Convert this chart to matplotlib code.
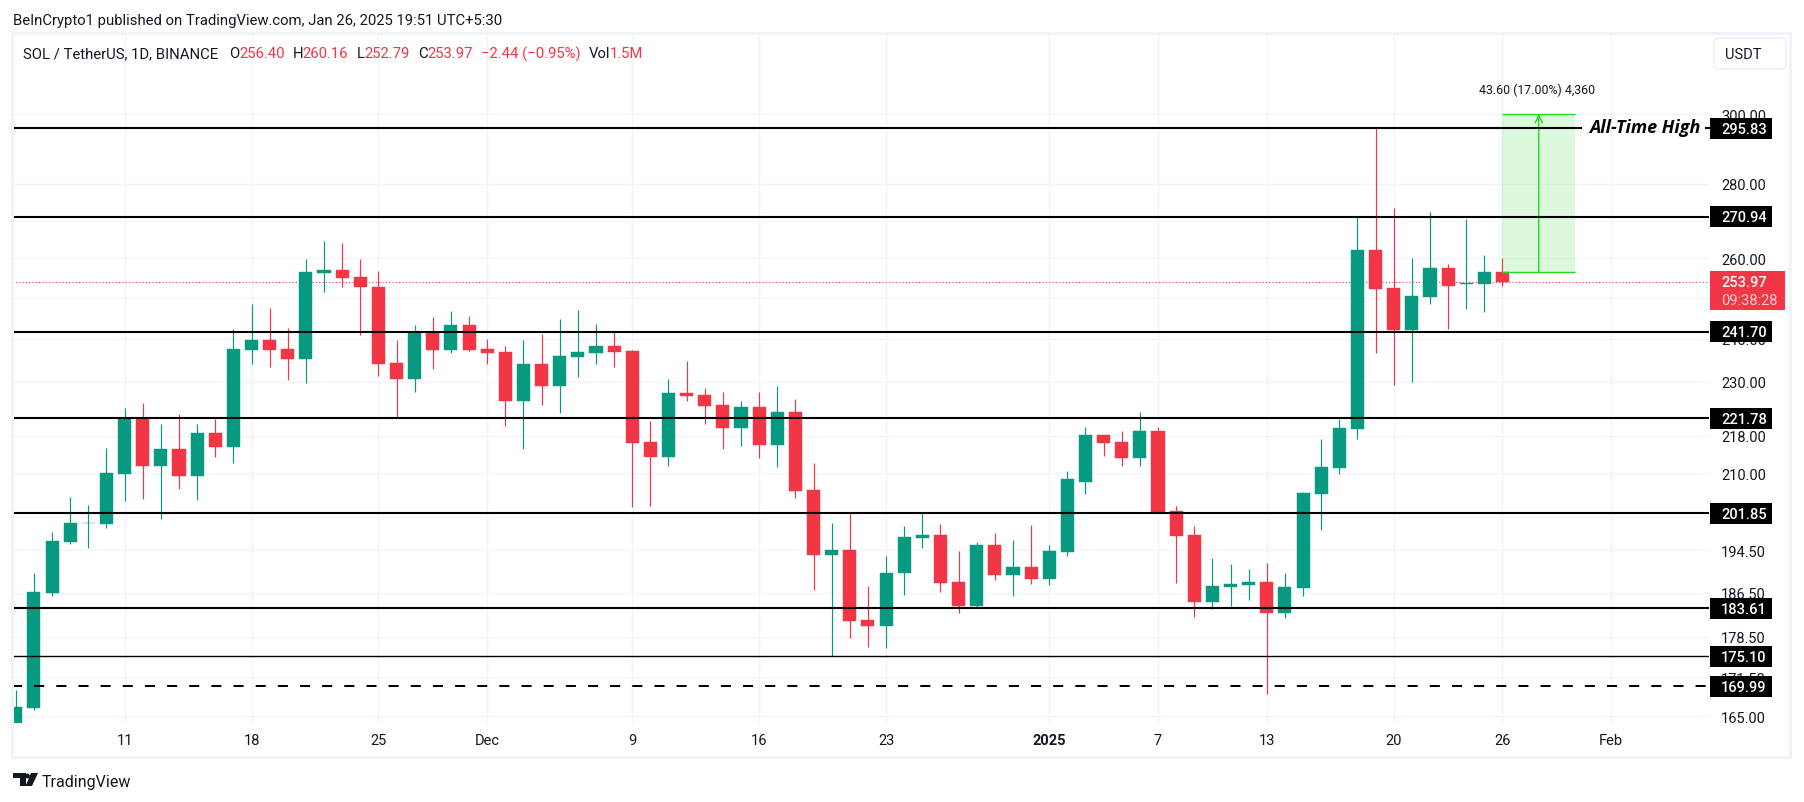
import numpy as np
import pandas as pd
import matplotlib
matplotlib.use("Agg")
import matplotlib.pyplot as plt
import matplotlib.dates as mdates
from matplotlib.patches import Rectangle, FancyBboxPatch, Circle, Polygon
from matplotlib.ticker import NullLocator

plt.rcParams['font.family'] = ['Roboto', 'DejaVu Sans']

W, H = 1804, 803
GREEN = "#089981"
RED = "#f23645"
INK = "#131722"
GRID = "#f0f3fa"
TOOL = "#1fdc1f"

# daily candles, 5 Nov 2024 to 26 Jan 2025
dates = pd.date_range("2024-11-05", "2025-01-26")
opens = [163.0, 166.4, 186.4, 196.1, 199.8, 199.7, 209.9, 221.8, 211.6, 215.1, 209.5, 218.6, 215.5,
         237.3, 239.7, 237.5, 235.2, 256.3, 257.0, 255.2, 252.7, 234.3, 230.6, 241.7, 237.3, 243.4,
         237.5, 236.8, 225.6, 234.1, 229.0, 235.7, 236.6, 238.3, 237.1, 216.6, 213.4, 227.4, 226.9,
         224.7, 219.7, 224.3, 216.0, 223.2, 206.5, 193.7, 194.6, 181.5, 180.4, 190.1, 197.0, 197.6,
         188.5, 184.0, 195.5, 189.9, 191.4, 189.1, 194.2, 208.2, 218.2, 216.6, 213.2, 218.9, 202.3,
         197.6, 184.7, 187.6, 188.0, 188.5, 182.8, 187.4, 205.7, 211.0, 219.5, 262.1, 252.4, 242.1,
         250.2, 257.5, 253.3, 253.3, 256.40]
highs = [169.3, 190.1, 198.0, 205.1, 203.5, 215.3, 224.1, 225.1, 220.6, 222.7, 220.6, 221.7, 242.4,
         248.4, 247.5, 242.6, 259.8, 264.5, 264.0, 259.8, 256.8, 239.7, 243.4, 245.3, 246.7, 245.5,
         239.9, 238.3, 239.7, 241.2, 244.8, 247.0, 243.6, 241.7, 237.3, 221.2, 230.6, 234.8, 228.6,
         227.6, 225.6, 227.6, 229.0, 226.0, 212.2, 199.9, 202.1, 187.8, 193.5, 199.2, 201.9, 199.7,
         194.4, 196.1, 197.8, 196.5, 199.4, 195.5, 210.5, 219.9, 218.2, 219.0, 223.2, 219.8, 203.3,
         199.2, 193.1, 191.9, 191.0, 192.1, 190.2, 206.1, 217.3, 221.7, 270.9, 295.83, 273.3, 260.1,
         272.2, 258.5, 270.4, 260.8, 260.16]
lows = [161.0, 166.0, 185.9, 195.7, 195.0, 198.8, 204.3, 204.7, 200.7, 206.8, 204.5, 213.4, 212.2,
        234.1, 233.4, 230.4, 229.7, 251.4, 252.7, 241.0, 231.3, 222.1, 227.6, 232.9, 236.6, 237.1,
        234.1, 220.1, 215.1, 224.7, 223.0, 231.1, 234.1, 233.4, 203.1, 203.3, 211.6, 225.6, 220.6,
        215.1, 215.8, 213.2, 211.4, 204.9, 187.0, 175.2, 178.3, 176.8, 176.5, 186.1, 195.0, 186.6,
        182.8, 183.7, 188.8, 185.9, 188.2, 188.0, 193.5, 205.8, 213.7, 211.6, 211.6, 201.9, 188.3,
        182.0, 183.5, 184.0, 185.1, 168.7, 181.9, 185.9, 198.5, 209.9, 217.3, 236.6, 229.3, 230.0,
        248.4, 242.4, 247.2, 246.5, 252.79]
closes = [166.5, 186.6, 196.4, 199.9, 199.9, 210.1, 221.8, 211.6, 215.1, 209.5, 218.6, 215.5, 237.5,
          239.7, 237.3, 235.2, 256.5, 257.0, 254.9, 252.6, 234.1, 230.6, 241.7, 237.3, 243.4, 237.3,
          236.6, 225.6, 234.1, 229.0, 235.9, 236.8, 238.3, 236.8, 216.4, 213.4, 227.4, 226.7, 224.5,
          219.7, 224.3, 216.0, 223.2, 206.4, 193.7, 194.6, 181.3, 180.4, 190.2, 197.2, 197.6, 188.3,
          184.0, 195.5, 189.9, 191.4, 189.1, 194.4, 208.8, 218.2, 216.4, 213.2, 218.9, 202.1, 197.4,
          184.7, 187.8, 188.2, 188.5, 182.8, 187.6, 205.9, 211.2, 219.7, 262.1, 252.1, 242.1, 250.4,
          257.5, 253.0, 253.6, 256.40, 253.97]

level_solid = [295.83, 270.94, 241.70, 221.78, 201.85, 183.61]
level_thin = 175.10
level_dash = 169.99
last_price = 253.97
countdown = "09:38:28"

price_ticks = [300, 280, 260, 250, 240, 230, 218, 210, 194.5, 186.5, 178.5, 171.5, 165]
date_ticks = ["2024-11-11", "2024-11-18", "2024-11-25", "2024-12-01", "2024-12-09", "2024-12-16",
              "2024-12-23", "2025-01-01", "2025-01-07", "2025-01-13", "2025-01-20", "2025-01-26",
              "2025-02-01"]
date_labels = ["11", "18", "25", "Dec", "9", "16", "23", "2025", "7", "13", "20", "26", "Feb"]

# long position tool
tool_start, tool_end = "2025-01-26", "2025-01-30"
tool_mid = "2025-01-28"
tool_entry, tool_target = 256.40, 300.00
tool_label = "43.60 (17.00%) 4,360"

fig = plt.figure(figsize=(W / 100, H / 100), dpi=100, facecolor="white")
ax = fig.add_axes([12 / W, 1 - 723.8 / H, (1709 - 12) / W, (723 - 34) / H])
for s in ax.spines.values():
    s.set_visible(False)

x = mdates.date2num(dates)
ref = mdates.date2num(pd.Timestamp("2024-11-11"))
ax.set_yscale("log")
ax.set_xlim(ref - 6.21, ref + 87.39)
ax.set_ylim(163.9, 324.9)
ax.yaxis.set_minor_locator(NullLocator())
ax.set_yticks(price_ticks)
ax.set_yticklabels(["%.2f" % p for p in price_ticks], ha="left")
ax.yaxis.set_minor_locator(NullLocator())
ax.set_xticks(mdates.date2num(pd.to_datetime(date_ticks)))
ax.set_xticklabels(date_labels)
ax.xaxis.set_minor_locator(NullLocator())
ax.yaxis.tick_right()
ax.tick_params(axis="y", length=0, pad=8.6, labelsize=10.5, labelcolor=INK)
ax.tick_params(axis="x", length=0, pad=7, labelsize=10.5, labelcolor=INK)
ax.get_xticklabels()[7].set_fontweight("bold")
ax.grid(True, color=GRID, lw=1.0, zorder=0)
ax.set_axisbelow(True)

# last price dotted line sits behind the candles
ax.axhline(last_price, color=RED, lw=0.8, ls=(0, (1, 2)), zorder=1)

# candles
o, h, l, c = map(np.array, (opens, highs, lows, closes))
colors = np.where(c >= o, GREEN, RED)
ax.vlines(x, l, h, colors=colors, lw=0.85, zorder=2)
ax.bar(x, np.abs(c - o), bottom=np.minimum(o, c), width=0.72, color=colors,
       edgecolor=colors, lw=0.3, zorder=3)

# position tool
t0, t1, tm = mdates.date2num(pd.to_datetime([tool_start, tool_end, tool_mid]))
ax.add_patch(Rectangle((t0, tool_entry), t1 - t0, tool_target - tool_entry, fc=TOOL, alpha=0.15,
                       lw=0, zorder=4))
ax.hlines([tool_entry, tool_target], t0, t1, colors=TOOL, lw=1.0, zorder=5)
ax.annotate("", xy=(tm, tool_target), xytext=(tm, tool_entry),
            arrowprops=dict(arrowstyle="->", color=TOOL, lw=1.0, shrinkA=0, shrinkB=0,
                            mutation_scale=13), zorder=5)

# support and resistance levels
for lv in level_solid:
    if lv == 295.83:
        ax.hlines(lv, ax.get_xlim()[0], mdates.date2num(pd.Timestamp("2025-01-30")) + 0.4,
                  colors="black", lw=1.5, zorder=6)
    else:
        ax.axhline(lv, color="black", lw=1.5, zorder=6)
ax.axhline(level_thin, color="black", lw=1.0, zorder=6)
ax.axhline(level_dash, color="black", lw=1.45, ls=(0, (5, 6)), zorder=6)

# overlay in figure pixels: frame, price labels, header
ov = fig.add_axes([0, 0, 1, 1], zorder=5)
ov.set_xlim(0, W)
ov.set_ylim(H, 0)
ov.axis("off")
ov.patch.set_alpha(0)

fig.canvas.draw()


def price_y(p):
    # screen row of a price on the main axis
    return H - ax.transData.transform((ref, p))[1]


ov.add_patch(Rectangle((12, 34), 1778, 724, fc="none", ec=GRID, lw=2.2))
ov.add_patch(FancyBboxPatch((1714, 39), 72, 31, boxstyle="round,pad=0,rounding_size=5",
                            fc="white", ec=GRID, lw=1.4))
ov.text(1743, 55, "USDT", ha="center", va="center", fontsize=10.5, color=INK)

y_ath = price_y(295.83)
ov.plot([1705, 1710], [y_ath, y_ath], color="black", lw=1.5, solid_capstyle="butt")
ov.text(1589, y_ath - 1, "All-Time High", ha="left", va="center", fontsize=13, style="italic",
        fontweight="bold", color="black", family=["Open Sans", "DejaVu Sans"])

for lv in level_solid + [level_thin, level_dash]:
    yy = price_y(lv)
    ov.add_patch(Rectangle((1710, yy - 10.5), 62, 21, fc="black", lw=0))
    ov.text(1721, yy + 0.5, "%.2f" % lv, ha="left", va="center", fontsize=10.5, color="white",
            fontweight="medium")

yy = price_y(last_price)
ov.add_patch(Rectangle((1710, yy - 10.5), 75, 39, fc=RED, lw=0))
ov.text(1721, yy, "%.2f" % last_price, ha="left", va="center", fontsize=10.5, color="white",
        fontweight="medium")
ov.text(1721, yy + 18.5, countdown, ha="left", va="center", fontsize=10.5, color="#fbd0d5")

ov.text(1537, 90.5, tool_label, ha="center", va="center", fontsize=8.9, color=INK)

ov.text(13, 21, "BeInCrypto1 published on TradingView.com, Jan 26, 2025 19:51 UTC+5:30",
        ha="left", va="center", fontsize=10.7, color=INK)

legend_parts = [(23, "SOL / TetherUS, 1D, BINANCE", INK), (229, "O", INK), (239, "256.40", RED),
                (293, "H", INK), (302.5, "260.16", RED), (357, "L", INK), (364.6, "252.79", RED),
                (418, "C", INK), (427, "253.97", RED), (481, "\u22122.44 (\u22120.95%)", RED),
                (589, "Vol", INK), (609.5, "1.5M", RED)]
for px, txt, col in legend_parts:
    ov.text(px, 54, txt, ha="left", va="center", fontsize=10.7, color=col)

# TradingView mark
ov.add_patch(Polygon([(13, 774), (26, 774), (26, 787), (20, 787), (20, 779), (13, 779)],
                     closed=True, fc=INK, lw=0))
ov.add_patch(Circle((27.5, 777), 2.4, fc=INK, lw=0))
ov.add_patch(Polygon([(31, 774), (38, 774), (32, 787), (25.5, 787)], closed=True, fc=INK, lw=0))
ov.text(42, 783, "TradingView", ha="left", va="center", fontsize=11.5, color=INK)

fig.savefig("out.png", dpi=100)
